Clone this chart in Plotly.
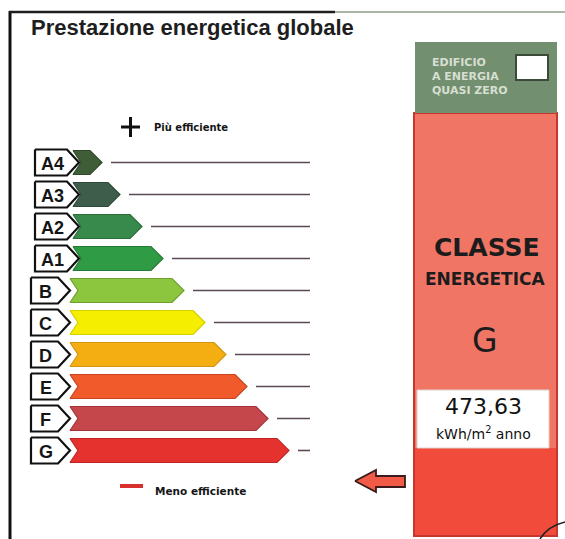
import plotly.graph_objects as go

# ---- data ----
classes = ["A4", "A3", "A2", "A1", "B", "C", "D", "E", "F", "G"]
bar_length = [30, 48, 70, 91, 112, 133, 154, 175, 196, 217]
bar_colors = ["#3f5e37", "#3e5d4a", "#378a4b", "#2f9b45", "#8cc63f",
              "#f5ee00", "#f5ae12", "#f15a2b", "#c6474b", "#e6322f"]
edge_colors = ["#2f4a2a", "#2f4a3a", "#2a6e3a", "#237a35", "#6fa030",
               "#d6cf00", "#d69510", "#c8441f", "#a3343a", "#c02523"]
title_text = "Prestazione energetica globale"
top_legend = "Più efficiente"
bottom_legend = "Meno efficiente"
nzeb_lines = ["EDIFICIO", "A ENERGIA", "QUASI ZERO"]
energy_class = "G"
energy_value = "473,63"
energy_unit = "kWh/m<sup>2</sup> anno"

W, H = 565, 539
fig = go.Figure()

def poly(xs, ys, fill, line, lw=1.0):
    fig.add_trace(go.Scatter(x=xs, y=ys, mode="lines", fill="toself",
                             fillcolor=fill, line=dict(color=line, width=lw),
                             hoverinfo="skip", showlegend=False))

def seg(xs, ys, color, lw):
    fig.add_trace(go.Scatter(x=xs, y=ys, mode="lines",
                             line=dict(color=color, width=lw),
                             hoverinfo="skip", showlegend=False))

row0, pitch = 162.5, 32.0
bar_start = 72
line_end = 310
ann = []

for i, (c, L, col, ecol) in enumerate(zip(classes, bar_length, bar_colors, edge_colors)):
    yc = row0 + i * pitch
    h = 12
    is_a = len(c) > 1
    x0 = 73 if is_a else 70
    tip = bar_start + L
    poly([x0, tip - 12, tip, tip - 12, x0, x0 + 8, x0],
         [yc - h, yc - h, yc, yc + h, yc + h, yc, yc - h], col, ecol, 1.2)
    seg([tip + 9, line_end], [yc, yc], "#5a4a55", 1.6)
    lh = 13
    if is_a:
        lx0, lx1, ltip = 35, 67, 79
    else:
        lx0, lx1, ltip = 31, 58, 70
    poly([lx0, lx1, ltip, lx1, lx0, lx0],
         [yc - lh, yc - lh, yc, yc + lh, yc + lh, yc - lh], "white", "#111111", 2.2)
    ann.append(dict(x=(lx0 + lx1) / 2 + 1, y=yc + 1, text=f"<b>{c}</b>",
                    font=dict(family="Liberation Sans", size=18, color="#151515")))

seg([121, 140], [127, 127], "#111111", 3)
seg([130.5, 130.5], [117, 137], "#111111", 3)
ann.append(dict(x=152, y=127, text=f"<b>{top_legend}</b>", xanchor="left",
                font=dict(family="DejaVu Sans", size=10, color="#151515")))

seg([120, 143], [486, 486], "#d8302c", 4)
ann.append(dict(x=153, y=491, text=f"<b>{bottom_legend}</b>", xanchor="left",
                font=dict(family="DejaVu Sans", size=10.5, color="#151515")))

ann.append(dict(x=29, y=27, text=f"<b>{title_text}</b>", xanchor="left",
                font=dict(family="Liberation Sans", size=22, color="#1e1e1e")))

seg([10, 10], [11, 539], "#111111", 3)
seg([9, 335], [12, 12], "#1e1e1e", 2.5)
seg([335, 565], [12, 12], "#8f9c88", 1.5)

shapes = []
shapes.append(dict(type="rect", x0=414, x1=557, y0=113, y1=536,
                   fillcolor="#f07565", line=dict(color="#c8362d", width=2)))
shapes.append(dict(type="rect", x0=415, x1=556, y0=448, y1=535,
                   fillcolor="#f04b3b", line=dict(width=0)))
shapes.append(dict(type="rect", x0=415, x1=557, y0=42, y1=113,
                   fillcolor="#728f6f", line=dict(width=0)))
shapes.append(dict(type="rect", x0=516, x1=548, y0=55, y1=80,
                   fillcolor="#ffffff", line=dict(color="#3c4a3a", width=2)))
shapes.append(dict(type="rect", x0=417, x1=549, y0=390, y1=448,
                   fillcolor="#ffffff", line=dict(color="#e0d0cc", width=1)))
shapes.append(dict(type="path", path="M 540 539 Q 548 526 565 522",
                   line=dict(color="#222222", width=1.5)))

for k, t in enumerate(nzeb_lines):
    ann.append(dict(x=430, y=62 + k * 14, text=f"<b>{t}</b>", xanchor="left",
                    font=dict(family="DejaVu Sans", size=11, color="#d7dfd2")))

ann.append(dict(x=487, y=247, text="<b>CLASSE</b>",
                font=dict(family="DejaVu Sans", size=25, color="#1c1c1c")))
ann.append(dict(x=485, y=279, text="<b>ENERGETICA</b>",
                font=dict(family="DejaVu Sans", size=17, color="#1c1c1c")))
ann.append(dict(x=485, y=340, text=energy_class,
                font=dict(family="DejaVu Sans", size=33, color="#1c1c1c")))
ann.append(dict(x=483, y=406, text=energy_value,
                font=dict(family="DejaVu Sans", size=22, color="#111111")))
ann.append(dict(x=483, y=433, text=energy_unit,
                font=dict(family="DejaVu Sans", size=14, color="#111111")))

poly([355, 376, 376, 405, 405, 376, 376, 355],
     [481, 470, 476, 476, 487, 487, 492, 481], "#f25a48", "#3a1a1a", 1.8)

for a in ann:
    a.setdefault("xanchor", "center")
    a.setdefault("yanchor", "middle")
    a.update(xref="x", yref="y", showarrow=False)

fig.update_layout(
    width=W, height=H, margin=dict(l=0, r=0, t=0, b=0),
    paper_bgcolor="white", plot_bgcolor="white",
    xaxis=dict(range=[0, W], visible=False, fixedrange=True),
    yaxis=dict(range=[H, 0], visible=False, fixedrange=True),
    shapes=shapes, annotations=ann, showlegend=False,
)
fig.write_html("out.html", config={"displayModeBar": False},
               post_script="document.body.style.margin='0';document.body.style.overflow='hidden';")
